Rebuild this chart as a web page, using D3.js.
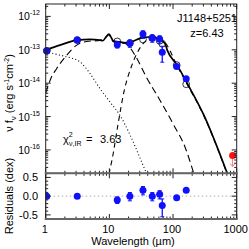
<!DOCTYPE html>
<html>
<head>
<meta charset="utf-8">
<script src="https://cdn.jsdelivr.net/npm/d3@7"></script>
<style>
  body { margin: 0; background: #fff; }
  svg { display: block; font-family: "Liberation Sans", Arial, Helvetica, sans-serif; }
</style>
</head>
<body>
<div id="chart"></div>
<script>
// rest-frame photometry (micron, nu f_nu in erg s^-1 cm^-2)
var photLam   = [1.04, 3.13, 13.3, 21.0, 33.7, 47.2, 61.6, 67.7, 114, 161];
var photFlux  = [9.3e-14, 1.95e-13, 1.41e-13, 1.58e-13, 2.95e-13, 2.24e-13, 2.09e-13, 8.5e-14, 3.16e-14, 1.35e-14];
var photErr   = [0, 0, 0.2, 0.25, 0.25, 0.25, 0.25, 0.5, 0, 0];   // fractional
var modelFlux = [9.3e-14, 1.95e-13, 1.78e-13, 1.58e-13, 2.04e-13, 2.24e-13, 1.86e-13, 1.51e-13, 3.47e-14, 9.3e-15];
var residuals = [0.0, 0.0, -0.1, 0.0, 0.16, 0.0, 0.05, -0.25, -0.04, 0.16];

// upper limit
var limLam  = [862];
var limFlux = [6.8e-17];

// model curves, log10(nu f_nu)
var totalLam = [1.0, 1.68, 3.13, 4.96, 7.1, 7.92, 8.83, 9.86, 10.6, 11.5, 13.8, 18.7, 24, 30.2, 46.1, 58.6, 74.7, 81, 116, 163, 305, 709];
var totalLog = [-13.0, -12.86, -12.71, -12.69, -12.71, -12.73, -12.62, -12.53, -12.62, -12.73, -12.76, -12.79, -12.74, -12.66, -12.61, -12.66, -12.81, -13.01, -13.46, -13.97, -14.96, -16.70];

var diskLam = [1.0, 1.5, 2.14, 3.45, 4.96, 7.11, 10.2, 14.6, 20.8, 29.8, 39.2];
var diskLog = [-13.05, -13.14, -13.21, -13.36, -13.71, -14.16, -14.56, -14.96, -15.52, -16.21, -16.75];

var hotLam = [1.0, 1.21, 1.49, 2.14, 3.07, 4.4, 7.1, 8.8, 9.86, 10.6, 11.5, 14.0, 18.2, 25.2, 38.9, 62.3, 103, 154, 213];
var hotLog = [-14.3, -13.85, -13.56, -13.16, -12.86, -12.75, -12.72, -12.62, -12.55, -12.64, -12.76, -12.78, -12.82, -13.16, -13.85, -14.51, -15.26, -15.91, -16.72];

var coldLam = [9.86, 11.0, 13.6, 16.9, 22.6, 32.5, 46.6, 62.3, 77.5, 116, 163, 305, 709];
var coldLog = [-16.72, -16.30, -15.26, -14.27, -13.46, -12.86, -12.65, -12.66, -12.82, -13.48, -14.0, -14.98, -16.72];

var xTickLabels = ["1", "10", "100", "1000"];
var yTickExp = ["-12", "-13", "-14", "-15", "-16"];
var rTickLabels = ["0.5", "0.0", "-0.5"];

var W = 249, H = 249;
var L = 45.7, R = 236.7, T = 4, B1 = 173.3, B2 = 219;

var svg = d3.select('#chart').append('svg')
            .attr('width', W).attr('height', H);
svg.append('rect').attr('width', W).attr('height', H).attr('fill', '#fff');

var x = d3.scaleLog().domain([1, 1000]).range([L, R]);
var y = d3.scaleLog().domain([2.0e-17, 2.35e-12]).range([B1, T]);
var yr = d3.scaleLinear().domain([-0.61, 0.61]).range([B2, B1]);

var defs = svg.append('defs');
defs.append('clipPath').attr('id', 'clipMain')
    .append('rect').attr('x', L).attr('y', T).attr('width', R - L).attr('height', B1 - T);
defs.append('clipPath').attr('id', 'clipRes')
    .append('rect').attr('x', L).attr('y', B1).attr('width', R - L).attr('height', B2 - B1);

// ---- curves
function curve(lams, logs) {
  return lams.map(function(l, i) { return [l, Math.pow(10, logs[i])]; });
}
var line = d3.line()
             .x(function(d) { return x(d[0]); })
             .y(function(d) { return y(d[1]); })
             .curve(d3.curveMonotoneX);

var gMain = svg.append('g').attr('clip-path', 'url(#clipMain)');

gMain.append('path').attr('d', line(curve(diskLam, diskLog)))
     .attr('fill', 'none').attr('stroke', '#000').attr('stroke-width', 1.1)
     .attr('stroke-dasharray', '1,2.4');
gMain.append('path').attr('d', line(curve(hotLam, hotLog)))
     .attr('fill', 'none').attr('stroke', '#000').attr('stroke-width', 1.1)
     .attr('stroke-dasharray', '7,4');
gMain.append('path').attr('d', line(curve(coldLam, coldLog)))
     .attr('fill', 'none').attr('stroke', '#000').attr('stroke-width', 1.1)
     .attr('stroke-dasharray', '5,4');
gMain.append('path').attr('d', line(curve(totalLam, totalLog)))
     .attr('fill', 'none').attr('stroke', '#000').attr('stroke-width', 1.7);

// model photometry, open circles
svg.append('g').selectAll('circle')
   .data(photLam).enter().append('circle')
   .attr('cx', function(d) { return x(d); })
   .attr('cy', function(d, i) { return y(modelFlux[i]); })
   .attr('r', 3.4)
   .attr('fill', 'none').attr('stroke', '#000').attr('stroke-width', 0.8);

// error bars helper
function errBar(g, cx, y0, y1, col) {
  g.append('line').attr('x1', cx).attr('x2', cx).attr('y1', y0).attr('y2', y1)
   .attr('stroke', col).attr('stroke-width', 1.3);
  [y0, y1].forEach(function(v) {
    g.append('line').attr('x1', cx - 2).attr('x2', cx + 2).attr('y1', v).attr('y2', v)
     .attr('stroke', col).attr('stroke-width', 1);
  });
}

var blue = '#1010ff';
var gPts = svg.append('g');
photLam.forEach(function(l, i) {
  if (photErr[i] > 0) {
    errBar(gPts, x(l), y(photFlux[i] * (1 + photErr[i])), y(photFlux[i] * (1 - photErr[i])), blue);
  }
});
gPts.selectAll('circle.obs')
   .data(photLam).enter().append('circle')
   .attr('class', 'obs')
   .attr('cx', function(d) { return x(d); })
   .attr('cy', function(d, i) { return y(photFlux[i]); })
   .attr('r', 3.5)
   .attr('fill', blue);

// upper limit
limLam.forEach(function(l, i) {
  var cx = x(l), cy = y(limFlux[i]);
  var col = '#ff7a7a';
  svg.append('line').attr('x1', cx).attr('x2', cx).attr('y1', cy).attr('y2', cy + 11)
     .attr('stroke', col).attr('stroke-width', 1);
  svg.append('path').attr('d', 'M' + (cx - 2.5) + ',' + (cy + 8) + 'L' + cx + ',' + (cy + 11) + 'L' + (cx + 2.5) + ',' + (cy + 8))
     .attr('fill', 'none').attr('stroke', col).attr('stroke-width', 1);
  svg.append('circle').attr('cx', cx).attr('cy', cy).attr('r', 3.5).attr('fill', '#ff1010');
});

// ---- residual panel
var gRes = svg.append('g').attr('clip-path', 'url(#clipRes)');
gRes.append('line').attr('x1', L).attr('x2', R).attr('y1', yr(0)).attr('y2', yr(0))
    .attr('stroke', '#999').attr('stroke-width', 0.8).attr('stroke-dasharray', '1.5,2.5');
photLam.forEach(function(l, i) {
  if (photErr[i] > 0) {
    var up = Math.log10(1 + photErr[i]), dn = Math.log10(1 - photErr[i]);
    errBar(gRes, x(l), yr(residuals[i] + up), yr(residuals[i] + dn), blue);
  }
});
gRes.selectAll('circle')
    .data(photLam).enter().append('circle')
    .attr('cx', function(d) { return x(d); })
    .attr('cy', function(d, i) { return yr(residuals[i]); })
    .attr('r', 3.5)
    .attr('fill', blue);

// ---- frames and ticks
var axisCol = '#222';
var gAx = svg.append('g').attr('stroke', axisCol);

function isDecade(v) { return Math.abs(Math.log10(v) - Math.round(Math.log10(v))) < 1e-6; }

x.ticks().forEach(function(v) {
  var len = isDecade(v) ? 5 : 2.5, px = x(v);
  [[T, 1], [B1, -1], [B1, 1], [B2, -1]].forEach(function(s) {
    gAx.append('line').attr('x1', px).attr('x2', px)
       .attr('y1', s[0]).attr('y2', s[0] + s[1] * len).attr('stroke-width', 1);
  });
});
y.ticks().forEach(function(v) {
  var len = isDecade(v) ? 5 : 2.5, py = y(v);
  gAx.append('line').attr('x1', L).attr('x2', L + len).attr('y1', py).attr('y2', py).attr('stroke-width', 1);
  gAx.append('line').attr('x1', R).attr('x2', R - len).attr('y1', py).attr('y2', py).attr('stroke-width', 1);
});
yr.ticks(12).forEach(function(v) {
  var len = Math.abs(v * 2 - Math.round(v * 2)) < 1e-6 ? 5 : 2.5, py = yr(v);
  gAx.append('line').attr('x1', L).attr('x2', L + len).attr('y1', py).attr('y2', py).attr('stroke-width', 1);
  gAx.append('line').attr('x1', R).attr('x2', R - len).attr('y1', py).attr('y2', py).attr('stroke-width', 1);
});

gAx.append('rect').attr('x', L).attr('y', T).attr('width', R - L).attr('height', B1 - T)
   .attr('fill', 'none').attr('stroke-width', 1);
gAx.append('line').attr('x1', L).attr('x2', L).attr('y1', B1).attr('y2', B2).attr('stroke-width', 1.2);
gAx.append('line').attr('x1', R).attr('x2', R).attr('y1', B1).attr('y2', B2).attr('stroke-width', 1.2);
gAx.append('line').attr('x1', L - 1).attr('x2', R + 1).attr('y1', B1).attr('y2', B1)
   .attr('stroke', '#666').attr('stroke-width', 2);
gAx.append('line').attr('x1', L - 1).attr('x2', R + 1).attr('y1', B2).attr('y2', B2)
   .attr('stroke', '#666').attr('stroke-width', 2);

// ---- tick labels
var gTxt = svg.append('g').attr('fill', '#000');
xTickLabels.forEach(function(t) {
  gTxt.append('text').attr('x', x(+t) - 1).attr('y', 233)
      .attr('text-anchor', 'middle').attr('font-size', 11).text(t);
});
yTickExp.forEach(function(e) {
  var t = gTxt.append('text').attr('x', 40).attr('y', y(Math.pow(10, +e)) + 4)
              .attr('text-anchor', 'end').attr('font-size', 10.5);
  t.append('tspan').text('10');
  t.append('tspan').attr('dy', -5).attr('font-size', 7).text(e);
});
rTickLabels.forEach(function(t) {
  gTxt.append('text').attr('x', 38).attr('y', yr(+t) + 4)
      .attr('text-anchor', 'end').attr('font-size', 11).text(t);
});

// axis titles
gTxt.append('text').attr('x', 133).attr('y', 245)
    .attr('text-anchor', 'middle').attr('font-size', 11).text('Wavelength (\u00b5m)');

var yl = gTxt.append('text').attr('transform', 'translate(13,93) rotate(-90)')
             .attr('text-anchor', 'middle').attr('font-size', 11);
yl.append('tspan').text('\u03bd f');
yl.append('tspan').attr('dy', 2.5).attr('font-size', 8).text('\u03bd');
yl.append('tspan').attr('dy', -2.5).text(' (erg s');
yl.append('tspan').attr('dy', -4).attr('font-size', 7).text('-1');
yl.append('tspan').attr('dy', 4).text('cm');
yl.append('tspan').attr('dy', -4).attr('font-size', 7).text('-2');
yl.append('tspan').attr('dy', 4).text(')');

gTxt.append('text').attr('transform', 'translate(13,196) rotate(-90)')
    .attr('text-anchor', 'middle').attr('font-size', 11).text('Residuals (dex)');

// annotations
gTxt.append('text').attr('x', 237).attr('y', 22).attr('text-anchor', 'end')
    .attr('font-size', 11).text('J1148+5251');
gTxt.append('text').attr('x', 207).attr('y', 37).attr('text-anchor', 'middle')
    .attr('font-size', 11).text('z=6.43');

var chi = gTxt.append('text').attr('x', 63).attr('y', 143).attr('font-size', 11);
chi.append('tspan').text('\u03c7');
chi.append('tspan').attr('dy', -6).attr('font-size', 7).text('2');
chi.append('tspan').attr('x', 69).attr('dy', 9).attr('font-size', 7).text('\u03bd,IR');
chi.append('tspan').attr('x', 86).attr('dy', -3).text('=');
chi.append('tspan').attr('x', 100).text('3.63');
</script>
</body>
</html>
